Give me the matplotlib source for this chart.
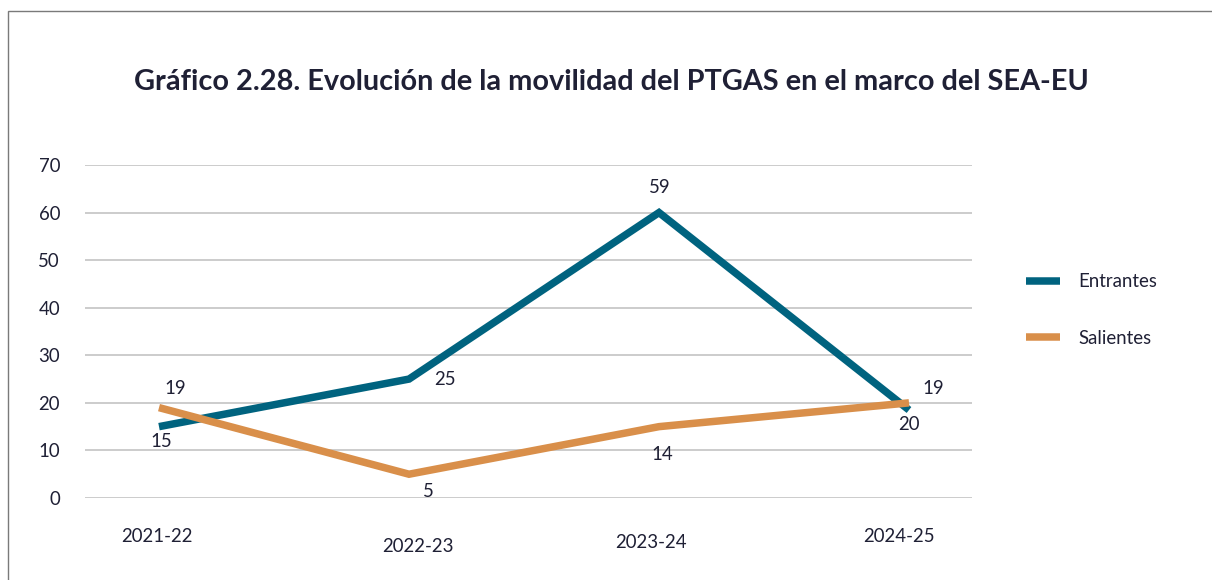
import matplotlib
matplotlib.use("Agg")
import matplotlib.pyplot as plt
from matplotlib.patches import Rectangle

plt.rcParams['font.family'] = ['Lato', 'DejaVu Sans']

# data
years = ["2021-22", "2022-23", "2023-24", "2024-25"]
entrantes = [15, 25, 60, 18.5]
salientes = [19, 5, 15, 20]
entrantes_labels = ["15", "25", "59", "20"]
salientes_labels = ["19", "5", "14", "19"]

BLUE = "#00637f"
ORANGE = "#d98f4a"
TEXT = "#1f2035"
FS = 13.4

fig = plt.figure(figsize=(12.12, 5.8), dpi=100)
W, H = 1212, 580

# outer frame (only left/top visible in the crop)
fig.patches.append(Rectangle((8 / W, -0.1), 1.2, 1 - 11 / H + 0.1, transform=fig.transFigure,
                             fill=False, edgecolor="#7a7a7a", linewidth=1.0))

ax = fig.add_axes([85 / W, 1 - 498 / H, (972 - 85) / W, (498 - 165) / H])
x = list(range(len(years)))

ax.plot(x, entrantes, color=BLUE, lw=5.4, solid_joinstyle='miter', solid_capstyle='butt',
        label="Entrantes", clip_on=False, zorder=3)
ax.plot(x, salientes, color=ORANGE, lw=5.4, solid_joinstyle='miter', solid_capstyle='butt',
        label="Salientes", clip_on=False, zorder=3)

ax.set_xlim(-0.296, 3.252)
ax.set_ylim(0, 70)
ax.set_yticks(range(0, 71, 10))
ax.yaxis.grid(True, color="#c8c8c8", lw=1.3)
ax.set_axisbelow(True)
for s in ax.spines.values():
    s.set_visible(False)
ax.tick_params(axis='y', length=0, pad=18, labelsize=FS, labelcolor=TEXT)
ax.set_xticks([])

# category labels sit at uneven heights in the original
xlab_y = [537, 547, 543, 537]
xlab_x = [157, 418, 651, 899]
for lab, px, py in zip(years, xlab_x, xlab_y):
    fig.text(px / W, 1 - py / H, lab, ha='center', va='center', fontsize=FS, color=TEXT)

# data labels
ent_off = [(2, -15), (36, 0), (1, 25), (0, -15)]
sal_off = [(16, 19), (19, -17), (3, -28), (24, 14)]
for xi, v, lab, off in zip(x, entrantes, entrantes_labels, ent_off):
    ax.annotate(lab, (xi, v), xytext=off, textcoords='offset pixels', ha='center', va='center',
                fontsize=FS, color=TEXT, zorder=4)
for xi, v, lab, off in zip(x, salientes, salientes_labels, sal_off):
    ax.annotate(lab, (xi, v), xytext=off, textcoords='offset pixels', ha='center', va='center',
                fontsize=FS, color=TEXT, zorder=4)

fig.legend(loc='center left', bbox_to_anchor=(1026 / W, 1 - 310 / H), frameon=False,
           fontsize=FS, handlelength=1.85, handletextpad=0.95, labelspacing=2.1,
           borderpad=0, borderaxespad=0, labelcolor=TEXT)

fig.text(611 / W, 1 - 82 / H, "Gráfico 2.28. Evolución de la movilidad del PTGAS en el marco del SEA-EU",
         ha='center', va='center', fontsize=20.8, fontweight='bold', color=TEXT)

fig.savefig("out.png", dpi=100)
